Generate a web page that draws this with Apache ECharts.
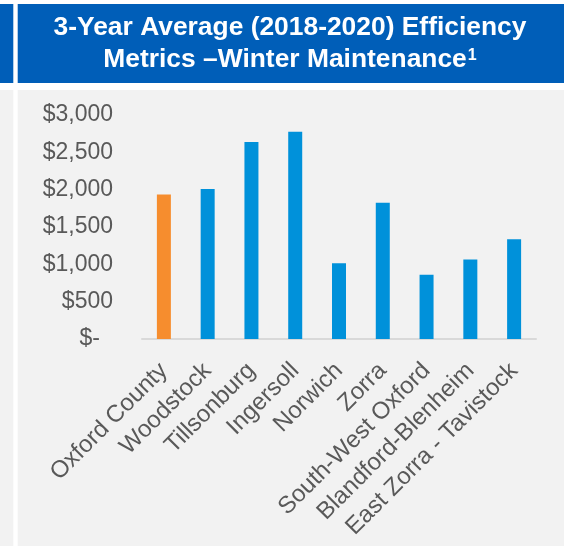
<!DOCTYPE html>
<html>
<head>
<meta charset="utf-8">
<script src="https://cdn.jsdelivr.net/npm/echarts@6/dist/echarts.min.js"></script>
<style>
  html, body { margin: 0; padding: 0; background: #ffffff; }
  #chart { width: 570px; height: 546px; }
</style>
</head>
<body>
<div id="chart"></div>
<script>
// Winter maintenance cost per lane km, 3-year average 2018-2020
const municipalities = [
  'Oxford County', 'Woodstock', 'Tillsonburg', 'Ingersoll', 'Norwich',
  'Zorra', 'South-West Oxford', 'Blandford-Blenheim', 'East Zorra - Tavistock'
];
const avgCost = [1935, 2010, 2640, 2775, 1015, 1825, 860, 1065, 1335];
const titleLine1 = '3-Year Average (2018-2020) Efficiency';
const titleLine2 = 'Metrics \u2013Winter Maintenance';
const titleNote = '1';
const yTicks = { min: 0, max: 3000, step: 500 };

const BLUE_HEAD = '#005EB8';
const PANEL = '#F2F2F2';
const COUNTY = '#F68D2E';
const LOCAL = '#0091DA';
const TEXT = '#595959';
const FONT = '"Liberation Sans", Arial, sans-serif';
const TITLE_FONT = 'bold 26.4px ' + FONT;
const NOTE_FONT = 'bold 16px ' + FONT;

function money(v) {
  if (v === 0) return '{z|$-}';
  return '$' + v.toLocaleString('en-US');
}

// measure the second heading line so that text + footnote marker stay centred
const ctx = document.createElement('canvas').getContext('2d');
ctx.font = TITLE_FONT;
const line2W = ctx.measureText(titleLine2).width;
ctx.font = NOTE_FONT;
const noteW = ctx.measureText(titleNote).width;
const headCenter = 290;
const line2Left = headCenter - (line2W + noteW + 1) / 2;

const chart = echarts.init(document.getElementById('chart'), null, { renderer: 'canvas' });

chart.setOption({
  backgroundColor: '#ffffff',
  animation: false,
  textStyle: { fontFamily: FONT },
  graphic: [
    { type: 'rect', z: -10, silent: true, shape: { x: 0, y: 4, width: 13.3, height: 79 }, style: { fill: BLUE_HEAD } },
    { type: 'rect', z: -10, silent: true, shape: { x: 17.7, y: 4, width: 546.3, height: 79 }, style: { fill: BLUE_HEAD } },
    { type: 'rect', z: -10, silent: true, shape: { x: 0, y: 90, width: 13.3, height: 456 }, style: { fill: PANEL } },
    { type: 'rect', z: -10, silent: true, shape: { x: 17.7, y: 90, width: 546.3, height: 456 }, style: { fill: PANEL } },
    {
      type: 'text', z: 10, silent: true, x: headCenter, y: 28,
      style: { text: titleLine1, fill: '#ffffff', font: TITLE_FONT, align: 'center', verticalAlign: 'middle' }
    },
    {
      type: 'text', z: 10, silent: true, x: line2Left, y: 59.6,
      style: { text: titleLine2, fill: '#ffffff', font: TITLE_FONT, align: 'left', verticalAlign: 'middle' }
    },
    {
      type: 'text', z: 10, silent: true, x: line2Left + line2W + 1, y: 55.6,
      style: { text: titleNote, fill: '#ffffff', font: NOTE_FONT, align: 'left', verticalAlign: 'middle' }
    }
  ],
  grid: { left: 142, right: 34, top: 115, height: 224, containLabel: false },
  xAxis: {
    type: 'category',
    data: municipalities,
    axisLine: { show: true, lineStyle: { color: '#D9D9D9', width: 2 } },
    axisTick: { show: false },
    axisLabel: {
      interval: 0, rotate: 45, margin: 28,
      color: TEXT, fontSize: 24, fontFamily: FONT
    }
  },
  yAxis: {
    type: 'value',
    min: yTicks.min, max: yTicks.max, interval: yTicks.step,
    axisLine: { show: false },
    axisTick: { show: false },
    splitLine: { show: false },
    axisLabel: {
      margin: 29, color: TEXT, fontSize: 23, fontFamily: FONT,
      formatter: money,
      rich: { z: { fontSize: 23, color: TEXT, padding: [0, 13, 0, 0], fontFamily: FONT } }
    }
  },
  series: [{
    type: 'bar',
    barWidth: 14,
    data: avgCost.map((v, i) => ({
      value: v,
      itemStyle: { color: i === 0 ? COUNTY : LOCAL }
    }))
  }]
});
</script>
</body>
</html>
